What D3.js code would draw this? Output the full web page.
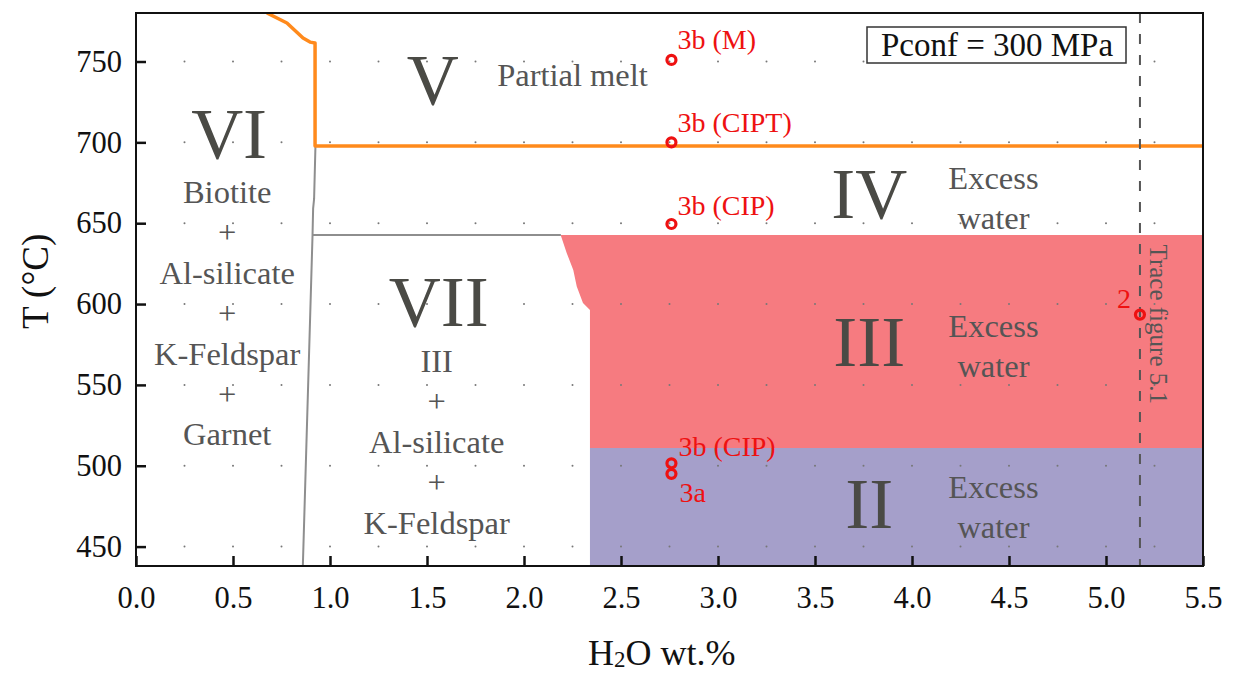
<!DOCTYPE html>
<html>
<head>
<meta charset="utf-8">
<script src="https://cdn.jsdelivr.net/npm/d3@7/dist/d3.min.js"></script>
<style>
  html, body { margin: 0; padding: 0; background: #fff; }
  svg { display: block; }
  text { font-family: "Liberation Serif", "Times New Roman", serif; }
</style>
</head>
<body>
<svg id="chart" width="1233" height="675"></svg>
<script>
// Axis ticks
const xTicks = [0, 0.5, 1, 1.5, 2, 2.5, 3, 3.5, 4, 4.5, 5, 5.5];
const yTicks = [450, 500, 550, 600, 650, 700, 750];
const gridX = d3.range(1, 22).map(i => i * 0.25);
const gridY = [450, 500, 550, 600, 650, 700, 750];

// Phase boundaries [H2O wt.%, T °C]
const solidusLine = [[0.675, 780], [0.778, 773.8], [0.861, 764.5], [0.897, 762], [0.923, 761.5], [0.923, 697.7], [5.5, 697.7]];
const biotiteLine = [[0.925, 697.7], [0.918, 665], [0.913, 659], [0.91, 642.7], [0.86, 438]];
const shelfLine = [[0.91, 642.7], [2.19, 642.7]];
const fieldIII = [[2.189, 642.7], [2.22, 631.6], [2.254, 621.1], [2.272, 610.8], [2.304, 600.7], [2.34, 596.3], [2.34, 511], [5.5, 511], [5.5, 642.7]];
const fieldII = [[2.34, 511], [5.5, 511], [5.5, 438], [2.34, 438]];

// Sample points
const sampleX = [2.76, 2.76, 2.76, 2.76, 2.76, 5.175];
const sampleT = [751, 700, 649.5, 501.5, 495, 593.5];
const traceX = 5.175;

// Labels
const sampleLabels = [
  { text: "3b (M)", x: 2.76, T: 751, dx: 6, dy: -11, anchor: "start" },
  { text: "3b (CIPT)", x: 2.76, T: 700, dx: 6, dy: -10, anchor: "start" },
  { text: "3b (CIP)", x: 2.76, T: 649.5, dx: 6, dy: -9, anchor: "start" },
  { text: "3b (CIP)", x: 2.76, T: 501.5, dx: 7, dy: -7, anchor: "start" },
  { text: "3a", x: 2.76, T: 495, dx: 8, dy: 28, anchor: "start" },
  { text: "2", x: 5.175, T: 593.5, dx: -9, dy: -7, anchor: "end" }
];
const romanLabels = [
  { text: "V", x: 1.53, T: 724 },
  { text: "VI", x: 0.48, T: 690.5 },
  { text: "VII", x: 1.56, T: 586.5 },
  { text: "IV", x: 3.78, T: 653 },
  { text: "III", x: 3.78, T: 561.7 },
  { text: "II", x: 3.78, T: 461.5 }
];
const fieldNotes = [
  { lines: ["Partial melt"], x: 2.25, T: 735 },
  { lines: ["Biotite", "+", "Al-silicate", "+", "K-Feldspar", "+", "Garnet"], x: 0.47, T: 662.5 },
  { lines: ["III", "+", "Al-silicate", "+", "K-Feldspar"], x: 1.55, T: 558 },
  { lines: ["Excess", "water"], x: 4.42, T: 671.2 },
  { lines: ["Excess", "water"], x: 4.42, T: 579.6 },
  { lines: ["Excess", "water"], x: 4.42, T: 480 }
];

const svg = d3.select("#chart");
const x = d3.scaleLinear().domain([0, 5.5]).range([136, 1203]);
const y = d3.scaleLinear().domain([438, 780]).range([566, 13]);
const line = d3.line().x(d => x(d[0])).y(d => y(d[1]));

svg.append("clipPath").attr("id", "plot-clip")
  .append("rect").attr("x", x(0)).attr("y", y(780)).attr("width", x(5.5) - x(0)).attr("height", y(438) - y(780));
const plot = svg.append("g").attr("clip-path", "url(#plot-clip)");

// Filled fields
plot.append("path").attr("d", line(fieldIII) + "Z").attr("fill", "#f67b80");
plot.append("path").attr("d", line(fieldII) + "Z").attr("fill", "#a59fca");

// Boundaries
plot.append("path").attr("d", line(biotiteLine)).attr("fill", "none").attr("stroke", "#8e8e8e").attr("stroke-width", 2);
plot.append("path").attr("d", line(shelfLine)).attr("fill", "none").attr("stroke", "#8e8e8e").attr("stroke-width", 2);
plot.append("path").attr("d", line(solidusLine)).attr("fill", "none").attr("stroke", "#ff8a1c").attr("stroke-width", 3.5).attr("stroke-linejoin", "round");

// Grid dots
gridX.forEach(gx => gridY.forEach(gy => {
  plot.append("circle").attr("cx", x(gx)).attr("cy", y(gy)).attr("r", 1).attr("fill", "#777");
}));

// Trace line
plot.append("line")
  .attr("x1", x(traceX)).attr("x2", x(traceX))
  .attr("y1", y(780)).attr("y2", y(438))
  .attr("stroke", "#555").attr("stroke-width", 2).attr("stroke-dasharray", "10 11");
svg.append("text")
  .attr("transform", `translate(${x(traceX) + 10},${y(643) + 10}) rotate(90)`)
  .attr("font-size", 25).attr("fill", "#555")
  .text("Trace figure 5.1");

// Field labels
const txt = svg.append("g");
romanLabels.forEach(d => {
  txt.append("text").attr("x", x(d.x)).attr("y", y(d.T))
    .attr("text-anchor", "middle").attr("font-size", 72).attr("fill", "#4a4a45").text(d.text);
});
fieldNotes.forEach(d => {
  d.lines.forEach((l, i) => {
    txt.append("text").attr("x", x(d.x)).attr("y", y(d.T) + i * 40.4)
      .attr("text-anchor", "middle").attr("font-size", 32.5).attr("fill", "#555").text(l);
  });
});

// Samples
svg.append("g").selectAll("circle").data(sampleX).join("circle")
  .attr("cx", d => x(d)).attr("cy", (d, i) => y(sampleT[i])).attr("r", 4.5)
  .attr("fill", "none").attr("stroke", "#ee1111").attr("stroke-width", 3.2);
sampleLabels.forEach(d => {
  svg.append("text").attr("x", x(d.x) + d.dx).attr("y", y(d.T) + d.dy)
    .attr("text-anchor", d.anchor).attr("font-size", 28).attr("fill", "#ee1111").text(d.text);
});

// Pressure box
svg.append("rect").attr("x", 867).attr("y", 27).attr("width", 259).attr("height", 36)
  .attr("fill", "#fff").attr("stroke", "#333").attr("stroke-width", 1.5);
svg.append("text").attr("x", 997).attr("y", 56).attr("text-anchor", "middle")
  .attr("font-size", 33).attr("fill", "#111").text("Pconf = 300 MPa");

// Axes
const xAxis = d3.axisBottom(x).tickValues(xTicks).tickFormat(d3.format(".1f")).tickSizeInner(-10).tickSizeOuter(0).tickPadding(20);
const yAxis = d3.axisLeft(y).tickValues(yTicks).tickFormat(d3.format("d")).tickSizeInner(-10).tickSizeOuter(0).tickPadding(14);
const gx = svg.append("g").attr("transform", `translate(0,${y(438)})`).call(xAxis);
const gy = svg.append("g").attr("transform", `translate(${x(0)},0)`).call(yAxis);
[gx, gy].forEach(g => {
  g.select(".domain").remove();
  g.selectAll(".tick line").attr("stroke", "#111").attr("stroke-width", 2.5);
  g.selectAll(".tick text").attr("font-family", "Liberation Serif").attr("font-size", 30.5).attr("fill", "#111");
});
svg.append("rect").attr("x", x(0)).attr("y", y(780)).attr("width", x(5.5) - x(0)).attr("height", y(438) - y(780))
  .attr("fill", "none").attr("stroke", "#111").attr("stroke-width", 2);

// Axis titles
svg.append("text").attr("transform", `translate(48,${y(614)}) rotate(-90)`)
  .attr("text-anchor", "middle").attr("font-size", 37).attr("fill", "#111").text("T (°C)");
const xt = svg.append("text").attr("x", x(2.71)).attr("y", 665)
  .attr("text-anchor", "middle").attr("font-size", 36).attr("fill", "#111");
xt.append("tspan").text("H");
xt.append("tspan").attr("font-size", 23).attr("dy", 2).text("2");
xt.append("tspan").attr("dy", -2).text("O wt.%");
</script>
</body>
</html>
